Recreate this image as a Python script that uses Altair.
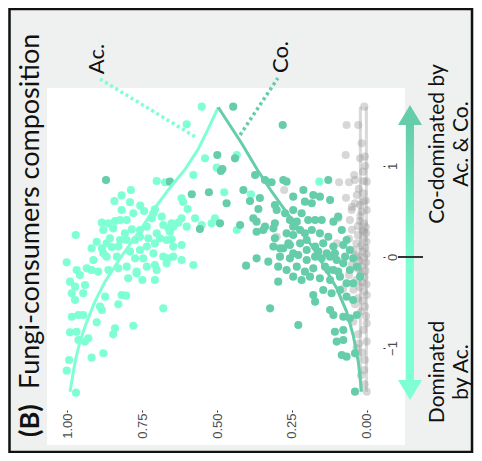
import altair as alt
import pandas as pd

# ---------------- data ----------------
ac_x = [0.551,0.601,0.540,0.501,0.434,0.579,0.476,0.387,0.618,0.613,0.598,0.618,0.629,0.646,0.573,0.551,0.507,0.518,0.434,0.601,
        0.651,0.662,0.657,0.159,0.701,0.673,0.787,0.818,0.842,0.790,0.756,0.743,0.779,0.707,0.712,0.884,0.862,0.840,0.823,0.801,
        0.846,0.879,0.784,0.757,0.734,0.718,0.684,0.679,0.701,0.971,0.918,0.884,0.851,0.868,0.901,0.879,0.823,0.801,0.773,0.757,
        0.729,0.707,0.668,0.646,0.618,0.579,0.679,0.712,0.746,0.773,0.834,0.868,1.001,0.968,0.957,0.934,0.918,0.896,0.862,0.829,
        0.801,0.768,0.734,0.707,0.701,0.749,0.768,0.796,0.707,0.664,0.668,0.990,0.973,0.984,0.973,0.946,0.940,0.873,0.829,0.818,
        0.803,0.884,0.890,0.901,0.984,0.962,0.946,0.990,0.968,0.962,0.940,0.929,0.840,0.846,0.779,0.679,0.879,0.918,0.993,1.001,
        0.970,0.857,0.829,0.790,0.757,0.807,0.734,0.912,0.646,0.618,0.690,0.651,0.818]
ac_y = [1.652,1.458,1.084,0.982,1.121,0.901,0.711,0.689,0.645,0.604,0.527,0.425,0.377,0.333,0.425,0.352,0.425,0.370,0.297,0.333,
        0.370,0.315,0.278,0.828,0.835,0.821,0.736,0.677,0.615,0.601,0.564,0.505,0.480,0.524,0.480,0.377,0.370,0.396,0.407,0.407,
        0.315,0.297,0.304,0.297,0.333,0.425,0.443,0.352,0.260,0.242,0.095,0.095,0.110,0.150,0.168,0.040,0.187,0.187,0.187,0.223,
        0.205,0.150,0.187,0.114,-0.033,-0.088,0.004,0.040,-0.015,-0.015,0.004,0.004,-0.059,-0.143,-0.198,-0.125,-0.143,-0.161,-0.143,-0.125,
        -0.106,-0.179,-0.106,-0.088,-0.143,-0.253,-0.161,-0.234,-0.253,-0.015,-0.070,-0.271,-0.326,-0.399,-0.473,-0.399,-0.308,-0.436,-0.520,-0.418,
        -0.425,-0.582,-0.546,-0.718,-0.656,-0.637,-0.637,-0.828,-0.821,-0.912,-0.930,-0.894,-0.784,-0.850,-0.755,-0.564,-1.058,-1.106,-1.132,-1.249,
        -1.491,0.205,0.114,0.059,0.077,0.260,0.114,-0.033,0.004,0.132,0.205,0.194,0.516]

co_x = [0.446,0.281,0.499,0.440,0.482,0.487,0.373,0.340,0.318,0.657,0.584,0.527,0.412,0.468,0.390,0.357,0.362,0.307,0.490,0.423,
        0.379,0.368,0.340,0.346,0.368,0.557,0.307,0.312,0.307,0.290,0.870,0.279,0.268,0.129,0.212,0.179,0.157,0.246,0.207,0.123,
        0.301,0.273,0.246,0.218,0.184,0.257,0.234,0.246,0.196,0.173,0.151,0.112,0.268,0.246,0.223,0.207,0.184,0.157,0.129,0.084,
        0.312,0.279,0.262,0.223,0.201,0.173,0.146,0.112,0.079,0.057,0.368,0.329,0.290,0.257,0.229,0.201,0.173,0.151,0.123,0.101,
        0.079,0.403,0.296,0.268,0.234,0.207,0.179,0.140,0.112,0.057,0.246,0.218,0.190,0.157,0.123,0.090,0.296,0.068,0.046,0.146,
        0.118,0.090,0.179,0.173,0.068,0.046,0.323,0.123,0.112,0.079,0.057,0.034,0.229,0.107,0.079,0.079,0.101,0.084,0.068,0.040,
        0.040,0.162,0.134,0.107,0.073,0.046,0.201,0.246,0.068,0.096,0.034,0.023,0.129,0.096,0.257]
co_y = [1.652,1.451,1.121,1.084,0.967,0.945,0.901,0.846,0.821,0.828,0.689,0.711,0.736,0.590,0.615,0.648,0.527,0.571,0.370,0.352,
        0.425,0.388,0.333,0.297,0.278,0.308,0.370,0.315,0.205,0.095,0.846,0.846,0.828,0.846,0.736,0.681,0.663,0.663,0.608,0.626,
        0.516,0.480,0.516,0.480,0.590,0.407,0.388,0.333,0.407,0.407,0.407,0.388,0.260,0.242,0.297,0.260,0.297,0.260,0.223,0.297,
        0.114,0.095,0.150,0.150,0.187,0.114,0.150,0.114,0.132,0.077,-0.015,-0.051,0.004,-0.015,0.022,-0.033,0.004,-0.015,0.004,-0.033,
        -0.070,-0.095,-0.106,-0.143,-0.106,-0.161,-0.125,-0.106,-0.143,-0.143,-0.216,-0.253,-0.216,-0.234,-0.253,-0.216,-0.271,-0.289,-0.289,-0.363,
        -0.399,-0.363,-0.418,-0.491,-0.436,-0.473,-0.564,-0.582,-0.637,-0.656,-0.674,-0.637,-0.747,-0.821,-0.802,-0.912,-0.930,-1.077,-1.095,-1.059,
        -1.480,0.059,0.040,0.040,0.004,-0.015,0.077,0.040,0.187,0.443,-0.106,-0.216,-0.143,-0.161,0.132]

gr_x = [0.009,0.068,0.029,0.071,0.023,0.007,0.043,0.013,0.093,0.060,0.040,0.012,0.001,0.276,0.034,0.012,0.040,0.023,0.012,0.051,
        0.018,0.001,0.096,0.057,0.023,0.010,0.004,0.030,0.050,0.015,0.003,0.030,0.301,0.060,0.012,0.002,0.035,0.020,0.005,0.045,
        0.015,0.002,0.034,0.010,0.025,0.003,0.050,0.015,0.030,0.005,0.020,0.060,0.008,0.035,0.015,0.002,0.025,0.045,0.010,0.001,
        0.030,0.015,0.007,0.040,0.020,0.046,0.001,0.012,0.030,0.001,0.035,0.007,0.009,0.020,0.001,0.050,0.070,0.080,0.100,0.018,
        0.006,0.027,0.004,0.022,0.011,0.038,0.003,0.016,0.026,0.008]
gr_y = [1.652,1.451,1.451,1.121,1.085,1.103,0.901,0.938,0.821,0.821,0.846,0.835,0.828,0.736,0.681,0.700,0.590,0.571,0.608,0.516,
        0.498,0.516,0.425,0.407,0.396,0.370,0.330,0.340,0.300,0.290,0.260,0.240,0.223,0.200,0.200,0.170,0.150,0.120,0.100,0.080,
        0.060,0.030,0.000,-0.010,-0.040,-0.060,-0.080,-0.100,-0.130,-0.150,-0.180,-0.200,-0.220,-0.250,-0.280,-0.300,-0.330,-0.360,-0.380,-0.418,
        -0.450,-0.480,-0.546,-0.520,-0.600,-0.711,-0.729,-0.802,-0.850,-0.930,-1.000,-1.132,-1.242,-1.300,-1.480,0.550,0.650,-0.350,0.150,1.250,
        1.000,0.750,0.620,0.450,0.280,0.020,-0.650,-1.050,-0.950,-1.400]

ac_curve_x = [0.990,0.973,0.957,0.934,0.907,0.873,0.820,0.751,0.707,0.655,0.607,0.562,0.529,0.496]
ac_curve_y = [-1.48,-1.15,-0.93,-0.71,-0.49,-0.27,0.00,0.32,0.54,0.77,0.96,1.19,1.41,1.645]
co_curve_x = [0.496,0.418,0.362,0.318,0.255,0.200,0.160,0.140,0.101,0.068,0.046,0.029,0.018]
co_curve_y = [1.645,1.25,0.94,0.72,0.43,0.20,0.00,-0.125,-0.344,-0.60,-0.86,-1.15,-1.48]
gray_line_x = [0.002, 0.002, 0.022, 0.022]
gray_line_y = [-1.48, 1.65, 1.65, -1.48]
gray_line_id = ["a", "a", "b", "b"]

x_ticks = [0, 0.25, 0.5, 0.75, 1]
y_ticks = [-1, 0, 1]

AC_COL = "#7fffd4"
CO_COL = "#66cdaa"
FONT = "Lato"

# ---------------- scales / axes ----------------
xs = alt.Scale(domain=[-0.1267, 1.0667], reverse=True, nice=False, zero=False)
ys = alt.Scale(domain=[-2.066, 1.857], nice=False, zero=False)
x_axis = alt.Axis(orient="bottom", values=x_ticks, format=".2f", labelAngle=270, labelAlign="right",
                  labelBaseline="middle", offset=-35, tickSize=2, labelPadding=1, domain=False, grid=False,
                  title=None, labelFont="Liberation Sans", labelFontSize=13, labelColor="#4d4d4d",
                  tickColor="#333333")
y_axis = alt.Axis(orient="right", values=y_ticks, format="d", labelAngle=270, labelAlign="center",
                  labelBaseline="top", offset=-22, tickSize=2, labelPadding=1, domain=False, grid=False,
                  title=None, labelFont="Liberation Sans", labelFontSize=13, labelColor="#4d4d4d",
                  tickColor="#333333")


def X(f="x"):
    return alt.X(f"{f}:Q", scale=xs, axis=x_axis)


def Y(f="y"):
    return alt.Y(f"{f}:Q", scale=ys, axis=y_axis)


ac_df = pd.DataFrame({"x": ac_x, "y": ac_y})
co_df = pd.DataFrame({"x": co_x, "y": co_y})
gr_df = pd.DataFrame({"x": gr_x, "y": gr_y})
acc_df = pd.DataFrame({"x": ac_curve_x, "y": ac_curve_y, "o": range(len(ac_curve_x))})
coc_df = pd.DataFrame({"x": co_curve_x, "y": co_curve_y, "o": range(len(co_curve_x))})
grl_df = pd.DataFrame({"x": gray_line_x, "y": gray_line_y, "g": gray_line_id, "o": range(4)})
lead_df = pd.DataFrame({"x": [0.89, 0.567, 0.297, 0.423], "y": [1.956, 1.31, 1.967, 1.34],
                        "g": ["Ac.", "Ac.", "Co.", "Co."]})

PT = 66
gray_lines = alt.Chart(grl_df).mark_line(color="#c8c8c8", strokeWidth=3, opacity=0.7).encode(
    x=X(), y=Y(), detail="g:N", order="o:Q")
gray_pts = alt.Chart(gr_df).mark_circle(size=PT, color="#9a9a9a", opacity=0.4).encode(x=X(), y=Y())
ac_pts = alt.Chart(ac_df).mark_circle(size=PT, color=AC_COL, opacity=1).encode(x=X(), y=Y())
co_pts = alt.Chart(co_df).mark_circle(size=PT, color=CO_COL, opacity=1).encode(x=X(), y=Y())
ac_line = alt.Chart(acc_df).mark_line(color=AC_COL, strokeWidth=3).encode(x=X(), y=Y(), order="o:Q")
co_line = alt.Chart(coc_df).mark_line(color=CO_COL, strokeWidth=3).encode(x=X(), y=Y(), order="o:Q")
lead = alt.Chart(lead_df).mark_line(strokeWidth=3.5, strokeDash=[3, 3], clip=False).encode(
    x=X(), y=Y(), detail="g:N",
    color=alt.Color("g:N", scale=alt.Scale(domain=["Ac.", "Co."], range=[AC_COL, CO_COL]), legend=None))


def txt(s, x, y, size, weight="normal", align="center"):
    return alt.Chart(pd.DataFrame({"t": [s]})).mark_text(
        angle=270, align=align, baseline="middle", font=FONT, fontSize=size, fontWeight=weight,
        color="#111111").encode(x=alt.value(x), y=alt.value(y), text="t:N")


labels = [
    txt("(B)", -16, 349, 27, "bold", "left"),
    txt("Fungi-consumers composition", -16, 301, 27, "normal", "left"),
    txt("Ac.", 50, -29, 22),
    txt("Co.", 234, -31, 22),
    txt("Co-dominated by", 391, 56, 21),
    txt("Ac. & Co.", 415, 56, 21),
    txt("Dominated", 391, 284, 21),
    txt("by Ac.", 415, 284, 21),
]

one = pd.DataFrame({"a": [0]})
shaft = alt.Chart(one).mark_rect(fill=alt.Gradient(
    gradient="linear",
    stops=[alt.GradientStop(color=CO_COL, offset=0), alt.GradientStop(color=AC_COL, offset=0.55),
           alt.GradientStop(color=AC_COL, offset=1)],
    x1=0, x2=0, y1=0, y2=1)).encode(x=alt.value(359), x2=alt.value(367), y=alt.value(36), y2=alt.value(293))
head_up = alt.Chart(one).mark_point(shape="M-1,0.8333L0,-0.8333L1,0.8333Z", size=576, filled=True,
                                    fill=CO_COL, opacity=1, strokeWidth=0).encode(
    x=alt.value(363), y=alt.value(27))
head_dn = alt.Chart(one).mark_point(shape="M-1,-0.8333L0,0.8333L1,-0.8333Z", size=576, filled=True,
                                    fill=AC_COL, opacity=1, strokeWidth=0).encode(
    x=alt.value(363), y=alt.value(302))
zero_tick = alt.Chart(one).mark_rule(color="#333333", strokeWidth=2).encode(
    x=alt.value(351), x2=alt.value(376), y=alt.value(169))
frame = alt.Chart(one).mark_rect(fillOpacity=0, stroke="#111111", strokeWidth=2.5).encode(
    x=alt.value(-37.5), x2=alt.value(425), y=alt.value(-79), y2=alt.value(364))

chart = alt.layer(
    gray_lines, gray_pts, ac_pts, co_pts, ac_line, co_line, lead,
    shaft, head_up, head_dn, zero_tick, *labels, frame
).properties(
    width=358, height=357,
    autosize=alt.AutoSizeParams(type="none"),
    padding={"left": 39, "top": 80, "right": 69, "bottom": 8},
    background="#eff1f0",
).configure_view(fill="white", stroke=None)

chart.save("out.html", embed_options={"renderer": "svg", "actions": False})
